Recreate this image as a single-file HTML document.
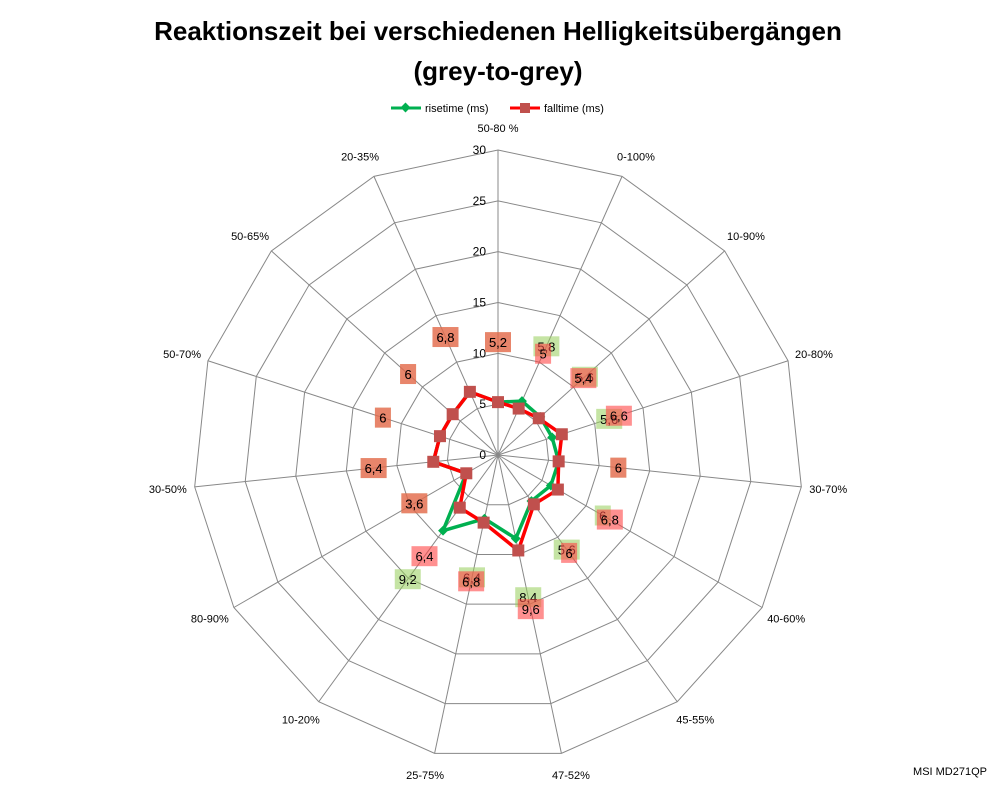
<!DOCTYPE html>
<html><head><meta charset="utf-8"><style>
body{margin:0;background:#fff;}
svg{display:block;font-family:"Liberation Sans",sans-serif;}
</style></head><body>
<svg id="c" width="998" height="786" viewBox="0 0 998 786">
<text x="498" y="40" text-anchor="middle" font-size="26" font-weight="bold">Reaktionszeit bei verschiedenen Helligkeitsübergängen</text>
<text x="498" y="80" text-anchor="middle" font-size="26" font-weight="bold">(grey-to-grey)</text>
<g>
<g>
<line x1="391" y1="108" x2="421" y2="108" stroke="#00b050" stroke-width="3"/>
<rect x="402" y="104" width="7" height="7" fill="#00b050" transform="rotate(45 405.5 107.5)"/>
<text x="425" y="112" font-size="11">risetime (ms)</text></g>
<g>
<line x1="510" y1="108" x2="540" y2="108" stroke="#ff0000" stroke-width="3"/>
<rect x="520" y="103" width="10" height="10" fill="#c0504d"/>
<text x="544" y="112" font-size="11">falltime (ms)</text></g>
</g>
<g id="grid"></g>
<g id="series"></g>
<g id="labels"></g>
<text x="987" y="775" text-anchor="end" font-size="11">MSI MD271QP</text>
</svg>
<script>
const categories=["50-80 %","0-100%","10-90%","20-80%","30-70%","40-60%","45-55%","47-52%","25-75%","10-20%","80-90%","30-50%","50-70%","50-65%","20-35%"];
const risetime=[5.2,5.8,5.6,5.6,6,6,5.6,8.4,6.4,9.2,3.6,6.4,6,6,6.8];
const falltime=[5.2,5,5.4,6.6,6,6.8,6,9.6,6.8,6.4,3.6,6.4,6,6,6.8];
const riseLabels=["5,2","5,8","5,6","5,6","6","6","5,6","8,4","6,4","9,2","3,6","6,4","6","6","6,8"];
const fallLabels=["5,2","5","5,4","6,6","6","6,8","6","9,6","6,8","6,4","3,6","6,4","6","6","6,8"];
const ticks=[0,5,10,15,20,25,30];
const CX=498,CY=455,R=305,MAX=30;
const NS="http://www.w3.org/2000/svg";
function rad(v){return v/MAX*R;}
function ang(i){return i*2*Math.PI/categories.length;}
function pt(i,r){return [CX+r*Math.sin(ang(i)),CY-r*Math.cos(ang(i))];}
function mk(tag,attrs,parent){const e=document.createElementNS(NS,tag);for(const k in attrs)e.setAttribute(k,attrs[k]);parent.appendChild(e);return e;}
const grid=document.getElementById('grid');
ticks.slice(1).forEach(t=>{
  const p=categories.map((c,i)=>pt(i,rad(t)).join(',')).join(' ');
  const ring=mk('polygon',{points:p,fill:'none',stroke:'#888','stroke-width':1},grid);
  
  
});
categories.forEach((c,i)=>{
  const [x,y]=pt(i,R);
  const sp=mk('line',{x1:CX,y1:CY,x2:x,y2:y,stroke:'#888','stroke-width':1},grid);
  
  
  const [lx,ly]=pt(i,R+22);
  const s=Math.sin(ang(i));
  const anchor=Math.abs(s)<0.2?'middle':(s>0?'start':'end');
  const tx=mk('text',{x:lx+(anchor==='start'?-14:anchor==='end'?14:0),y:ly+4,'text-anchor':anchor,'font-size':11},grid);
  tx.textContent=c;
  
  
});
ticks.forEach(t=>{
  const tx=mk('text',{x:CX-12,y:CY-rad(t)+4,'text-anchor':'end','font-size':12},grid);
  tx.textContent=t;
  
  
});
const series=document.getElementById('series');
function drawSeries(vals,color,name,marker){
  const p=vals.map((v,i)=>pt(i,rad(v)).join(',')).join(' ');
  const pl=mk('polygon',{points:p,fill:'none',stroke:color,'stroke-width':3.5,'stroke-linejoin':'round'},series);
  
  
  vals.forEach((v,i)=>{
    const [x,y]=pt(i,rad(v));
    let m;
    if(marker==='diamond'){m=mk('rect',{x:x-3.5,y:y-3.5,width:7,height:7,fill:color,transform:`rotate(45 ${x} ${y})`},series);}
    else{m=mk('rect',{x:x-6,y:y-6,width:12,height:12,fill:'#c0504d'},series);}
    
    
  });
}
drawSeries(risetime,'#00b050','risetime','diamond');
drawSeries(falltime,'#ff0000','falltime','square');
const labels=document.getElementById('labels');
function drawLabels(vals,texts,bg,name){
  vals.forEach((v,i)=>{
    const [x,y]=pt(i,rad(v)+60);
    const w=texts[i].length>1?26:16;
    const r=mk('rect',{x:x-w/2,y:y-10,width:w,height:20,fill:bg},labels);
    
    
    const t=mk('text',{x:x,y:y+5,'text-anchor':'middle','font-size':13},labels);
    t.textContent=texts[i];
    
    
  });
}
drawLabels(risetime,riseLabels,'rgba(150,205,90,0.55)','risetime');
drawLabels(falltime,fallLabels,'rgba(255,70,70,0.6)','falltime');
</script>
</body></html>
